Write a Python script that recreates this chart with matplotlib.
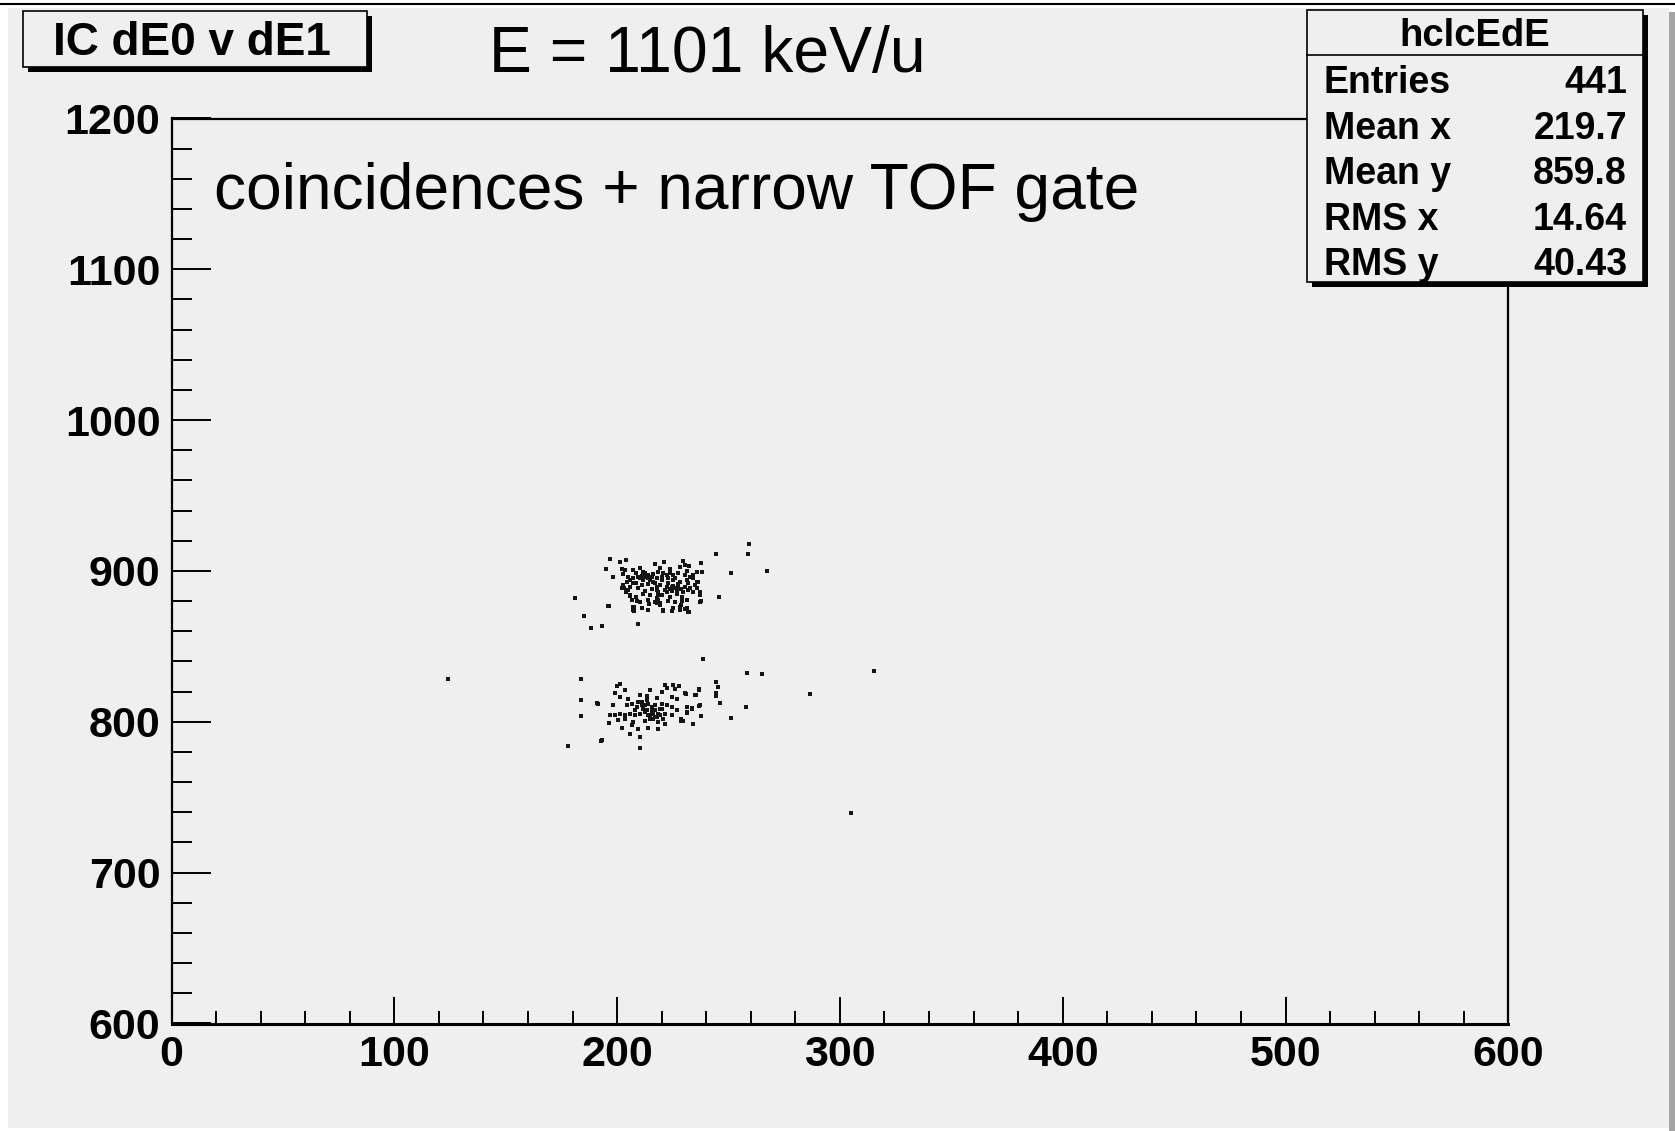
import matplotlib
matplotlib.use("Agg")
import numpy as np
import matplotlib.pyplot as plt
from matplotlib.patches import Rectangle
from matplotlib.lines import Line2D
from matplotlib.ticker import MultipleLocator
from matplotlib import font_manager as fm

# ---------------------------------------------------------------- data
# IC dE1 (x) versus dE0 (y) for coincident events inside the narrow TOF gate.
# Upper band of events
de1_upper = [
    259.2, 258.6, 244.6, 267.3, 251.3, 245.9, 181.1, 185.0, 188.3, 193.2,
    209.5, 196.2, 196.8, 194.9, 198.0, 201.2, 204.0, 237.7, 237.7, 237.2,
    232.1, 213.7, 220.8, 224.5, 207.3, 207.7, 230.3, 228.7, 221.2, 217.2,
    229.7, 230.5, 232.4, 234.2, 235.7, 202.5, 203.1, 204.0, 206.6, 205.8,
    208.8,
    202.0, 203.5, 207.3, 210.2, 219.2, 223.7, 228.2, 231.2, 235.7,
    202.8, 205.0, 208.7, 211.7, 214.0, 216.2, 218.5, 220.7, 225.2, 227.4,
    232.7, 237.9, 234.2,
    205.8, 207.3, 210.2, 212.5, 214.7, 217.7, 220.0, 223.0, 225.2, 228.2,
    231.2, 236.4,
    202.8, 208.7, 211.0, 214.0, 217.0, 219.2, 222.2, 225.2, 227.4, 230.4,
    232.7,
    202.0, 205.0, 209.5, 212.5, 215.5, 218.5, 221.5, 224.5, 227.0, 229.7,
    231.9,
    205.8, 208.7, 211.7, 214.7, 217.7, 220.0, 223.7, 226.7, 229.0, 237.2,
    206.5, 210.2, 214.0, 217.0, 219.2, 223.0, 226.0, 229.0, 231.2, 237.2,
    196.0, 207.3, 211.0, 214.4, 219.2, 225.2, 228.2, 231.2,
    207.7, 214.0, 220.7, 224.5, 228.2, 231.9,
    212.5, 213.2, 215.5, 211.7, 214.0, 211.0, 216.2, 209.5,
    223.0, 224.5, 226.0, 227.4, 228.9, 223.7, 226.7, 222.2,
    217.7, 218.0, 218.5, 218.2, 217.7,
    207.3, 205.8, 204.3,
    230.4, 231.9, 234.9, 234.2, 235.7,
    222.2, 223.7, 226.0, 220.0,
]
de0_upper = [
    918.2, 911.1, 911.6, 900.3, 899.0, 882.6, 882.4, 870.2, 862.5, 863.8,
    865.0, 876.9, 908.0, 901.4, 896.3, 905.8, 907.2, 905.2, 879.8, 886.4,
    872.9, 874.0, 873.8, 873.8, 874.2, 876.4, 875.1, 877.6, 905.8, 904.5,
    906.3, 904.1, 903.4, 897.4, 893.0, 891.0, 888.6, 886.4, 880.9, 883.5,
    879.8,
    901.4, 900.7, 900.7, 901.8, 902.3, 901.4, 902.9, 900.1, 899.6,
    897.9, 896.3, 898.5, 899.2, 897.4, 897.9, 899.6, 898.5, 897.4, 898.5,
    896.3, 899.2, 895.2,
    894.1, 895.2, 895.2, 896.3, 894.1, 895.2, 894.1, 895.2, 894.1, 893.0,
    894.1, 893.0,
    890.8, 891.9, 890.8, 891.2, 891.9, 890.8, 889.7, 890.3, 891.2, 889.7,
    888.6,
    888.6, 887.5, 888.6, 886.8, 888.1, 886.4, 887.5, 886.8, 888.6, 886.4,
    887.5,
    884.2, 883.0, 884.6, 884.2, 882.4, 884.2, 883.0, 884.6, 883.0, 884.2,
    880.8, 879.7, 880.8, 879.7, 878.6, 880.2, 879.3, 880.2, 880.8, 879.7,
    877.1, 876.4, 875.3, 878.0, 877.5, 875.8, 876.4, 875.3,
    873.8, 874.2, 874.2, 873.5, 874.2, 873.1,
    898.5, 897.0, 895.9, 894.1, 895.2, 897.0, 893.0, 896.3,
    891.9, 889.7, 888.6, 889.0, 888.1, 888.1, 886.8, 886.4,
    889.7, 887.5, 884.2, 880.8, 878.6,
    891.9, 889.7, 893.0,
    897.4, 891.9, 890.8, 886.4, 888.6,
    897.4, 898.5, 895.2, 896.3,
]

# Lower band of events
de1_lower = [
    124.2, 183.8, 183.8, 183.8, 191.2, 192.7, 177.8, 210.5, 210.5, 238.7,
    258.3, 265.0, 315.3, 286.4, 257.8, 250.9, 305.2, 244.6, 245.1, 244.2,
    244.6, 246.4, 236.9, 237.6, 233.9, 228.9,
    201.3, 199.8, 203.6, 199.1, 191.6, 201.3, 205.1, 210.3, 213.3, 214.8,
    217.8, 221.5, 222.3, 225.3, 226.0, 227.8, 224.5, 226.8, 230.8, 235.0,
    236.8, 220.0,
    204.3, 206.6, 208.8, 211.0, 212.5, 214.0, 215.5, 217.0, 220.0, 222.3,
    224.5, 226.8, 231.2, 233.5, 237.2, 198.3,
    196.8, 199.1, 201.3, 203.6, 205.8, 208.1, 210.3, 212.5, 214.8, 217.0,
    219.3, 221.5, 224.5, 228.9, 231.2, 237.7,
    196.4, 200.6, 203.6, 207.3, 212.5, 216.3, 218.5, 221.5, 229.7, 234.2,
    202.1, 206.6, 209.5, 214.0, 218.5, 205.8, 193.1,
    211.8, 213.3, 215.5, 217.0, 218.5, 217.8, 214.8, 216.3, 214.0, 211.0,
    209.5, 219.3, 220.0, 208.1, 220.8, 213.3,
    236.8, 235.3, 230.6, 231.2, 233.5,
]
de0_lower = [
    828.4, 828.2, 814.5, 803.7, 812.3, 787.3, 783.8, 790.2, 782.7, 841.5,
    832.4, 832.0, 833.7, 818.7, 810.1, 802.8, 739.8, 826.2, 823.4, 819.0,
    817.2, 812.3, 810.8, 803.7, 798.6, 800.8,
    825.4, 823.8, 821.3, 819.4, 812.1, 816.5, 815.0, 818.1, 817.2, 821.0,
    815.9, 824.7, 822.5, 824.3, 821.6, 823.8, 816.5, 815.0, 818.7, 817.6,
    821.6, 819.8,
    811.0, 812.1, 809.9, 813.2, 811.0, 812.1, 809.9, 811.0, 808.8, 811.0,
    809.9, 807.7, 809.9, 808.8, 811.0, 811.0,
    804.4, 804.8, 805.5, 804.4, 805.5, 804.4, 805.5, 806.6, 804.8, 803.3,
    804.4, 805.5, 804.4, 802.2, 806.6, 803.9,
    799.3, 801.1, 802.2, 799.9, 800.4, 802.2, 799.9, 798.8, 800.4, 798.8,
    796.0, 797.7, 795.5, 796.0, 795.1, 792.2, 787.8,
    808.8, 807.7, 807.0, 807.7, 805.5, 803.3, 802.2, 805.5, 804.4, 811.4,
    813.2, 808.8, 812.1, 807.7, 802.2, 814.3,
    821.1, 817.8, 818.9, 806.1, 809.0,
]

x_range = (0, 600)
y_range = (600, 1200)
x_ticks = [0, 100, 200, 300, 400, 500, 600]
y_ticks = [600, 700, 800, 900, 1000, 1100, 1200]

hist_name = "hclcEdE"
stat_labels = ["Entries", "Mean x", "Mean y", "RMS x", "RMS y"]
stat_values = ["441", "219.7", "859.8", "14.64", "40.43"]

title = "IC dE0 v dE1"
energy_note = "E = 1101 keV/u"
gate_note = "coincidences + narrow TOF gate"

# ---------------------------------------------------------------- layout
W, H = 1675, 1131
BG = "#efefef"

names = {f.name for f in fm.fontManager.ttflist}
sans = "Liberation Sans" if "Liberation Sans" in names else "DejaVu Sans"
narrow = "Liberation Sans Narrow" if "Liberation Sans Narrow" in names else sans
tick_size = 35 if narrow != sans else 31


def fx(px):
    return px / W


def fy(py):
    return 1 - py / H


fig = plt.figure(figsize=(W / 100, H / 100), dpi=100)
fig.patch.set_facecolor("white")

# canvas background, top rule and right-hand border strip
fig.add_artist(Rectangle((fx(8), fy(1128)), fx(1669) - fx(8), fy(8) - fy(1128),
                         transform=fig.transFigure, facecolor=BG,
                         edgecolor="none", zorder=-5))
fig.add_artist(Line2D([0, 1], [fy(4), fy(4)], transform=fig.transFigure,
                      color="black", lw=1.5, zorder=-4))
fig.add_artist(Rectangle((fx(1669), 0), 1 - fx(1669), fy(12),
                         transform=fig.transFigure, facecolor="#a4a4a4",
                         edgecolor="none", zorder=-4))

ax = fig.add_axes([fx(171.5), fy(1023.5), fx(1508.3) - fx(171.5),
                   fy(118.5) - fy(1023.5)])
ax.set_facecolor("none")

x_all = np.array(de1_upper + de1_lower)
y_all = np.array(de0_upper + de0_lower)
ax.plot(x_all, y_all, linestyle="none", marker="s", markersize=2.8,
        color="#151515", markeredgewidth=0)

ax.set_xlim(*x_range)
ax.set_ylim(*y_range)
ax.set_xticks(x_ticks)
ax.set_yticks(y_ticks)
ax.xaxis.set_minor_locator(MultipleLocator(20))
ax.yaxis.set_minor_locator(MultipleLocator(20))
for sp in ax.spines.values():
    sp.set_linewidth(1.6)
ax.spines["bottom"].set_linewidth(2.2)
ax.tick_params(which="both", direction="in", top=False, right=False,
               width=1.4, color="black")
ax.tick_params(axis="x", which="major", length=19.5, pad=8)
ax.tick_params(axis="x", which="minor", length=9.7)
ax.tick_params(axis="y", which="major", length=28, pad=8)
ax.tick_params(axis="y", which="minor", length=14.4)
for lab in ax.get_xticklabels() + ax.get_yticklabels():
    lab.set_fontfamily(narrow)
    lab.set_fontweight("bold")
    lab.set_fontsize(tick_size)

# title box with drop shadow
fig.add_artist(Rectangle((fx(28), fy(72)), fx(367) - fx(23), fy(11) - fy(67),
                         transform=fig.transFigure, facecolor="black",
                         edgecolor="none", zorder=2))
fig.add_artist(Rectangle((fx(23), fy(67)), fx(367) - fx(23), fy(11) - fy(67),
                         transform=fig.transFigure, facecolor=BG,
                         edgecolor="black", lw=1.2, zorder=3))
fig.text(fx(192), fy(55), title, ha="center", va="baseline",
         fontfamily=sans, fontweight="bold", fontsize=33, zorder=4)

# notes written on the pad
fig.text(fx(489), fy(72), energy_note, ha="left", va="baseline",
         fontfamily=sans, fontsize=46.3, zorder=4)
fig.text(fx(214), fy(209), gate_note, ha="left", va="baseline",
         fontfamily=sans, fontsize=46.1, zorder=4)

# statistics box with drop shadow
fig.add_artist(Rectangle((fx(1312), fy(287)), fx(1643) - fx(1307),
                         fy(10) - fy(282), transform=fig.transFigure,
                         facecolor="black", edgecolor="none", zorder=2))
fig.add_artist(Rectangle((fx(1307), fy(282)), fx(1643) - fx(1307),
                         fy(10) - fy(282), transform=fig.transFigure,
                         facecolor=BG, edgecolor="black", lw=1.2, zorder=3))
fig.add_artist(Line2D([fx(1307), fx(1643)], [fy(55), fy(55)],
                      transform=fig.transFigure, color="black", lw=1.2,
                      zorder=4))
fig.text(fx(1475), fy(46.5), hist_name, ha="center", va="baseline",
         fontfamily=sans, fontweight="bold", fontsize=27.5, zorder=4)
for i, (lab, val) in enumerate(zip(stat_labels, stat_values)):
    base = 93.3 + 45.4 * i
    fig.text(fx(1324), fy(base), lab, ha="left", va="baseline",
             fontfamily=sans, fontweight="bold", fontsize=27, zorder=4)
    fig.text(fx(1627), fy(base), val, ha="right", va="baseline",
             fontfamily=sans, fontweight="bold", fontsize=27, zorder=4)

fig.savefig("out.png", dpi=100)
